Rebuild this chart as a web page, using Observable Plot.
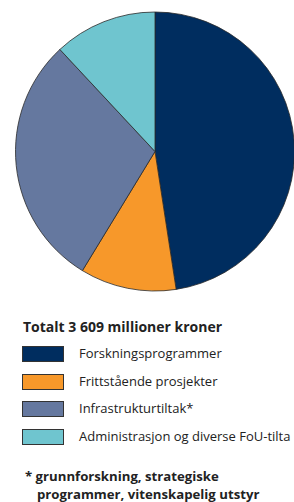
<!DOCTYPE html>
<html>
<head>
<meta charset="utf-8">
<script src="https://cdn.jsdelivr.net/npm/d3@7"></script>
<script src="https://cdn.jsdelivr.net/npm/@observablehq/plot@0.6"></script>
<style>
  html, body { margin: 0; padding: 0; background: #fff; }
  body { width: 294px; height: 502px; overflow: hidden; position: relative; font-family: "Open Sans", "Noto Sans", sans-serif; color: #222; }
  #chart svg { display: block; }
  .title { position: absolute; left: 23px; top: 317px; font-weight: bold; font-size: 14px; white-space: nowrap; }
  .item { position: absolute; left: 22px; height: 16px; white-space: nowrap; }
  .sw { position: absolute; left: 0; top: 0; width: 40px; height: 14px; border: 1px solid #333; }
  .lab { position: absolute; left: 57px; top: -2px; font-size: 13px; white-space: nowrap; }
  .note { position: absolute; left: 25px; top: 467px; font-weight: bold; font-size: 13.2px; line-height: 18px; white-space: nowrap; }
</style>
</head>
<body>
<div id="chart"></div>
<div id="legend"></div>
<script>
const categories = ["Forskningsprogrammer", "Frittstående prosjekter", "Infrastrukturtiltak*", "Administrasjon og diverse FoU-tilta"];
const values = [1717, 402, 1059, 431];
const colors = ["#002d5f", "#f7982a", "#65789f", "#6fc5cf"];
const titleText = "Totalt 3 609 millioner kroner";
const noteLines = ["* grunnforskning, strategiske", "programmer, vitenskapelig utstyr"];

const data = categories.map((c, i) => ({category: c, value: values[i]}));

const chart = Plot.plot({
  width: 294,
  height: 300,
  margin: 0,
  x: {domain: [-1, 1], range: [15.5, 294.5], axis: null},
  y: {domain: [-1, 1], range: [290.8, 12.2], axis: null},
  color: {domain: categories, range: colors},
  marks: [
    Plot.dot(data, {
      x: 0, y: 0, fill: "category",
      render(index, scales, vals) {
        const cx = scales.x(0), cy = scales.y(0);
        const r = scales.x(1) - scales.x(0);
        const arcs = d3.pie().sort(null).value(i => data[i].value)(index);
        const arc = d3.arc().innerRadius(0).outerRadius(r);
        const g = d3.create("svg:g").attr("transform", `translate(${cx},${cy})`);
        g.selectAll("path").data(arcs).join("path")
          .attr("d", arc)
          .attr("fill", d => vals.fill[d.data])
          .attr("stroke", "#2a2a2a")
          .attr("stroke-width", 0.8)
          .attr("stroke-linejoin", "round");
        return g.node();
      }
    })
  ]
});
document.getElementById("chart").append(chart);

const legend = document.getElementById("legend");
const t = document.createElement("div");
t.className = "title";
t.textContent = titleText;
legend.append(t);
categories.forEach((c, i) => {
  const it = document.createElement("div");
  it.className = "item";
  it.style.top = (346 + i * 27.7) + "px";
  const sw = document.createElement("div");
  sw.className = "sw";
  sw.style.background = colors[i];
  const lab = document.createElement("div");
  lab.className = "lab";
  lab.textContent = c;
  it.append(sw, lab);
  legend.append(it);
  // keep the last label inside the window
  const right = lab.getBoundingClientRect().right;
  if (right > 292) {
    const w = lab.getBoundingClientRect().width;
    lab.style.transformOrigin = "0 50%";
    lab.style.transform = `scaleX(${(w - (right - 292)) / w})`;
  }
});
const note = document.createElement("div");
note.className = "note";
note.innerHTML = noteLines.map((l, i) => `<div style="padding-left:${i ? 12 : 0}px">${l}</div>`).join("");
legend.append(note);
</script>
</body>
</html>
